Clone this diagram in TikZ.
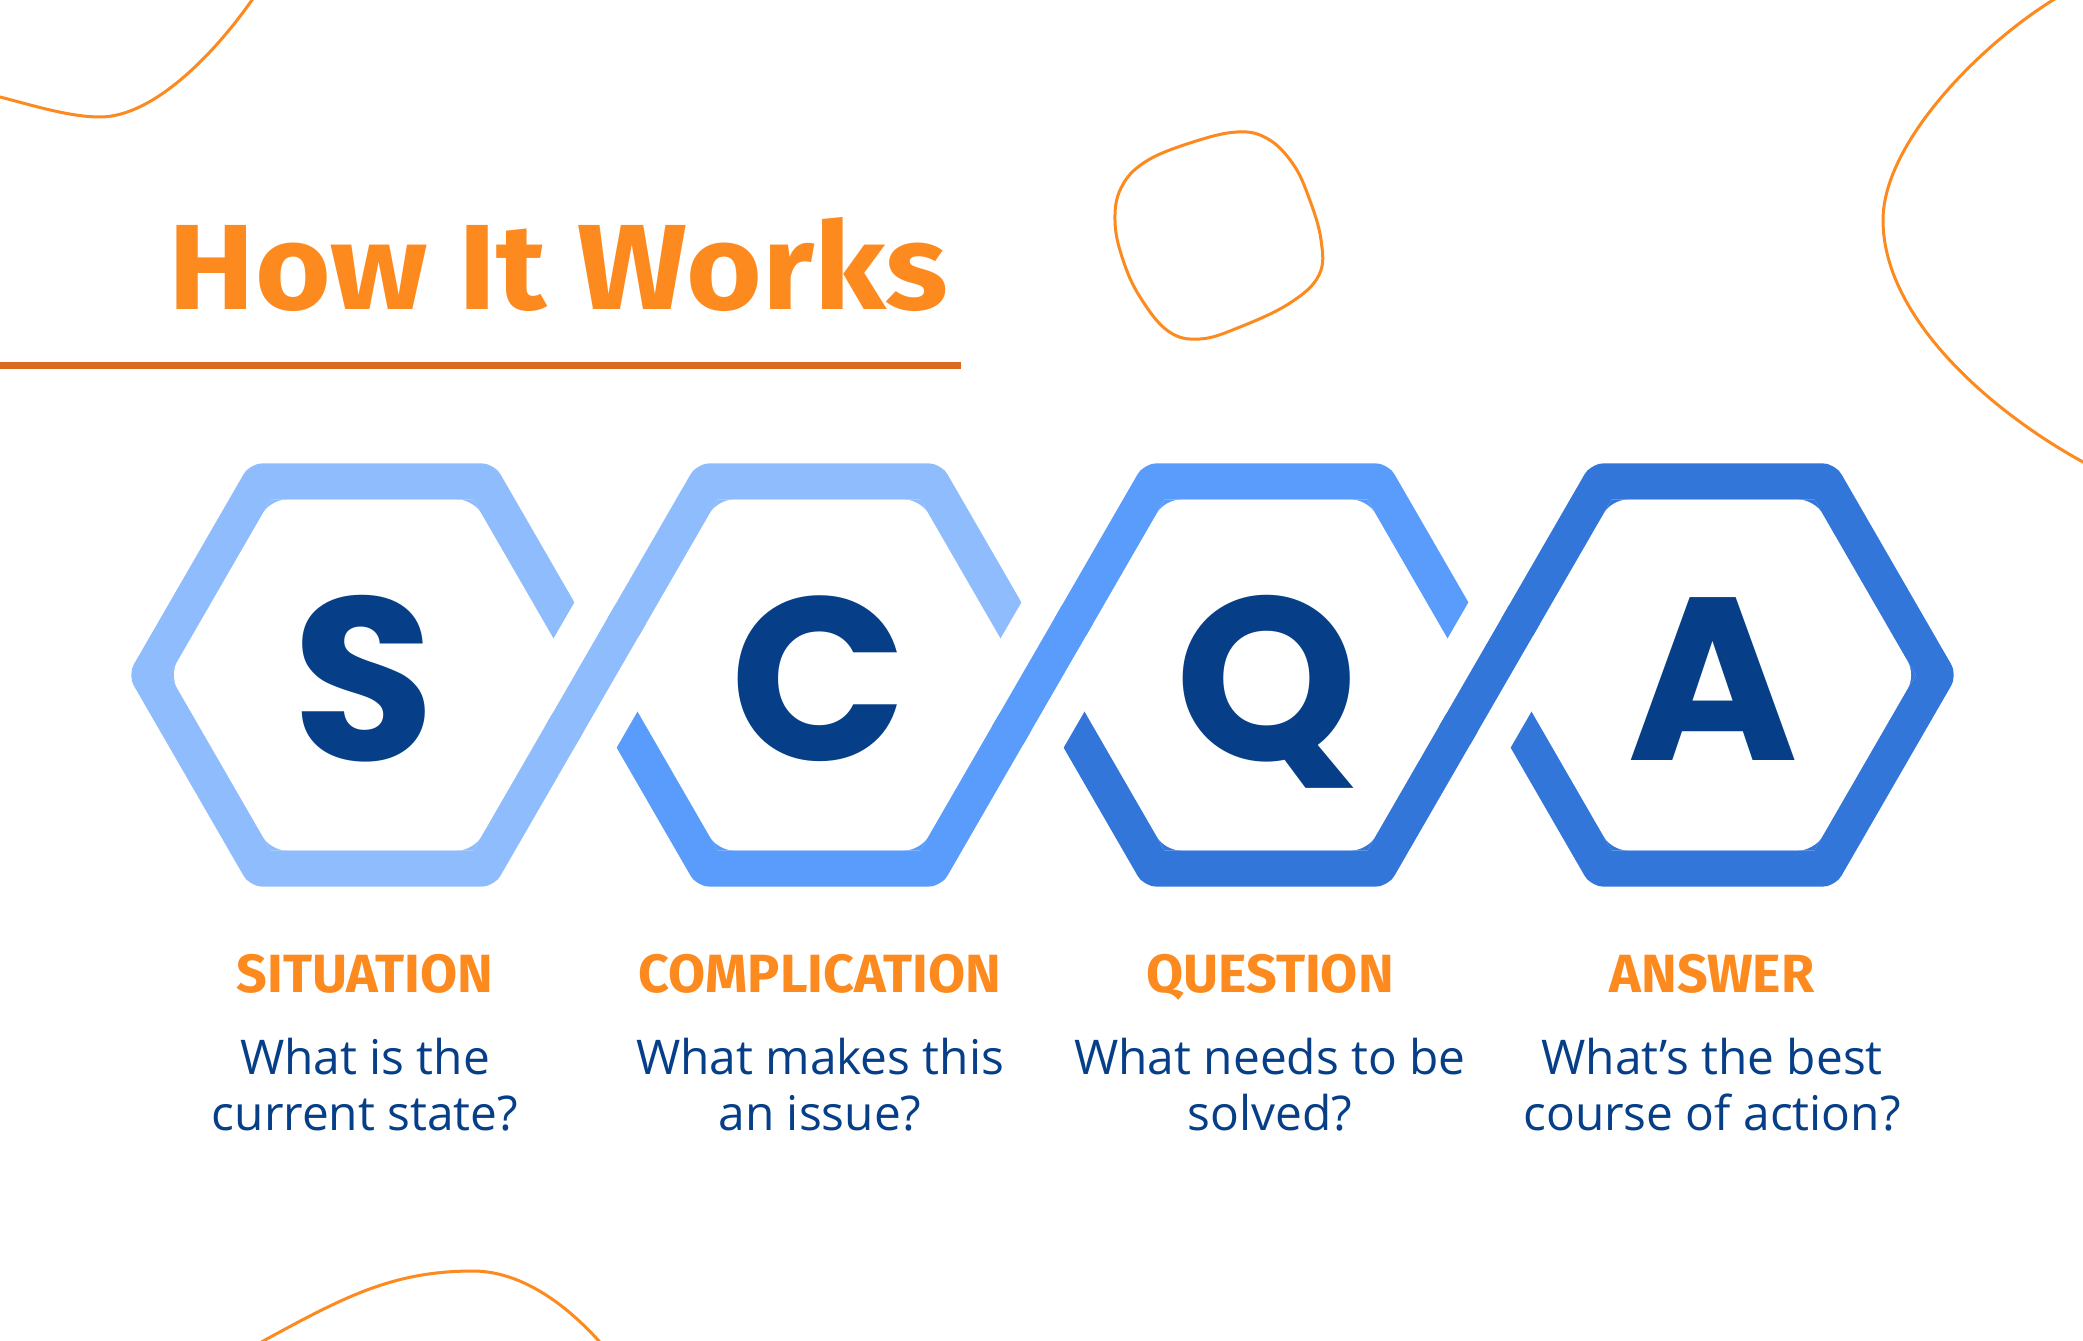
\documentclass[tikz,border=0pt]{standalone}
\usepackage{fontspec}
\setmainfont{Fira Sans}
\newfontfamily\titlefont{Fira Sans}[FakeStretch=1.07]
\newfontfamily\letterfont{Poppins}
\newfontfamily\bodyfont{Open Sans}
\usetikzlibrary{calc}
\definecolor{hexA}{HTML}{8FBCFC}
\definecolor{hexB}{HTML}{599CFC}
\definecolor{hexC}{HTML}{3276D9}
\definecolor{navy}{HTML}{063F87}
\definecolor{orng}{HTML}{FC8A1E}
\definecolor{rulec}{HTML}{DB6A1E}
\tikzset{
  band/.style={line width=0.36cm, rounded corners=0.02cm, line join=round},
  overband/.style={line width=0.36cm},
  erase/.style={white, line width=1.09cm},
  deco/.style={orng, line width=0.03cm},
  bigletter/.style={anchor=base, text=navy, font=\letterfont\bfseries\fontsize{66}{70}\selectfont, inner sep=0pt},
  steplabel/.style={anchor=base, text=orng, font=\bfseries\fontsize{15.3}{18}\selectfont, inner sep=0pt},
  question/.style={anchor=base, text=navy, font=\bodyfont\fontsize{13.6}{16}\selectfont, inner sep=0pt},
}
\begin{document}
\begin{tikzpicture}[x=0.01cm, y=-0.01cm]
\useasboundingbox (0,0) rectangle (2083,1340);
\fill[white] (0,0) rectangle (2083,1340);
\begin{scope}
\clip (0,0) rectangle (2083,1340);
% decorative curves
\draw[deco] (-12,94) -- (0,97) .. controls (35,106) and (70,117) .. (100,117)
  .. controls (152,117) and (212,57) .. (252,0) -- (259,-10);
\draw[deco] (2070,-10) -- (2053,0) .. controls (1976,48) and (1883,145) .. (1883,220)
  .. controls (1883,320) and (1995,414) .. (2083,462) -- (2100,471);
\draw[deco] (253,1347) -- (265,1340) .. controls (344,1297) and (393,1271) .. (473,1271)
  .. controls (523,1271) and (568,1307) .. (598,1340) -- (605,1348);
\draw[deco] plot[smooth cycle, tension=0.65] coordinates {(1115,222) (1121,188) (1145,162) (1190,143) (1237,132) (1268,139) (1293,164) (1309,198) (1321,240) (1319,275) (1290,303) (1240,327) (1200,339) (1168,331) (1140,297) (1123,260)};
\end{scope}
% title
\node[anchor=base west, inner sep=0pt, text=orng, font=\titlefont\bfseries\fontsize{34.5}{38}\selectfont] (title) at (168,310) {How It Works};
\coordinate (rule-l) at (0,366);
\coordinate (rule-r) at (961,366);
\draw[rulec, line width=0.07cm] (rule-l) -- (rule-r);
% hexagon vertices
\foreach \n/\cx in {S/372, C/819, Q/1266, A/1713} {
  \coordinate (\n-c) at (\cx,675);
  \coordinate (\n-L) at (\cx-223.5,675);
  \coordinate (\n-R) at (\cx+223.5,675);
  \coordinate (\n-TL) at (\cx-111.75,481.4);
  \coordinate (\n-TR) at (\cx+111.75,481.4);
  \coordinate (\n-BL) at (\cx-111.75,868.6);
  \coordinate (\n-BR) at (\cx+111.75,868.6);
}
% inner corner fillets
\foreach \cx/\ct/\cb in {372/hexA/hexA, 819/hexA/hexB, 1266/hexB/hexC, 1713/hexC/hexC} {
  \fill[\ct] (\cx-202.7,675) -- (\cx-101.35,499.5) -- (\cx+101.35,499.5) -- (\cx+202.7,675) -- cycle;
  \fill[\cb] (\cx-202.7,675) -- (\cx-101.35,850.5) -- (\cx+101.35,850.5) -- (\cx+202.7,675) -- cycle;
  \fill[white, rounded corners=0.16cm] (\cx,499.5) -- (\cx+101.35,499.5) -- (\cx+202.7,675) -- (\cx+101.35,850.5) -- (\cx-101.35,850.5) -- (\cx-202.7,675) -- (\cx-101.35,499.5) -- cycle;
}
\draw[band, hexA] (S-R) -- (S-TR) -- (S-TL) -- (S-L) -- (S-BL) -- (S-BR) -- (C-TL) -- (C-TR) -- (C-R);
\draw[band, hexB] (C-L) -- (C-BL) -- (C-BR) -- (Q-TL) -- (Q-TR) -- (Q-R);
\draw[band, hexC] (Q-L) -- (Q-BL) -- (Q-BR) -- (A-TL) -- (A-TR) -- (A-R) -- (A-BR) -- (A-BL) -- (A-L);
% crossings
\foreach \j in {S-R, C-R, Q-R}
  \draw[erase] ($(\j)+(27.5,-47.6)$) -- ($(\j)+(-27.5,47.6)$);
\draw[overband, hexA] ($(S-R)+(35,-60.6)$) -- ($(S-R)+(-35,60.6)$);
\draw[overband, hexB] ($(C-R)+(35,-60.6)$) -- ($(C-R)+(-35,60.6)$);
\draw[overband, hexC] ($(Q-R)+(35,-60.6)$) -- ($(Q-R)+(-35,60.6)$);
% letters
\node[bigletter] (S-let) at (364,760) {S};
\node[bigletter] (C-let) at (819,760) {C};
\node[bigletter] (Q-let) at (1267,760) {Q};
\node[bigletter] (A-let) at (1713,760) {A};
% labels
\node[steplabel] (S-lab) at (365,992) {SITUATION};
\node[steplabel] (C-lab) at (820,992) {COMPLICATION};
\node[steplabel] (Q-lab) at (1270,992) {QUESTION};
\node[steplabel] (A-lab) at (1712,992) {ANSWER};
% questions
\node[question] (S-q1) at (365,1074) {What is the};
\node[question] (S-q2) at (365,1130) {current state?};
\node[question] (C-q1) at (820,1074) {What makes this};
\node[question] (C-q2) at (820,1130) {an issue?};
\node[question] (Q-q1) at (1270,1074) {What needs to be};
\node[question] (Q-q2) at (1270,1130) {solved?};
\node[question] (A-q1) at (1712,1074) {What’s the best};
\node[question] (A-q2) at (1712,1130) {course of action?};
\end{tikzpicture}
\end{document}
